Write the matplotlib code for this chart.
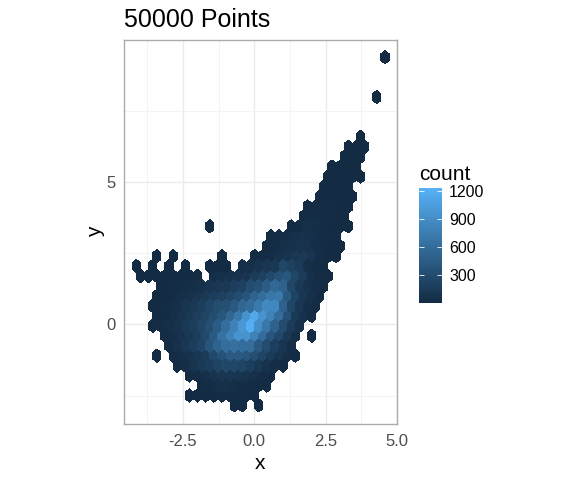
import numpy as np
import matplotlib
matplotlib.use("Agg")
import matplotlib.pyplot as plt
from matplotlib.colors import LinearSegmentedColormap

plt.rcParams['font.family'] = ['Liberation Sans', 'DejaVu Sans']

# Hex cells, one row per y value. Each row starts at row_x0 and steps by hex_step, 0 = empty cell
hex_step = 0.286
row_y = [9.37, 7.974, 6.578, 6.229, 5.88, 5.531, 5.182, 4.833, 4.484, 4.135, 3.786, 3.437,
         3.088, 2.739, 2.39, 2.041, 1.692, 1.343, 0.994, 0.645, 0.296, -0.053, -0.402,
         -0.751, -1.1, -1.449, -1.798, -2.147, -2.496, -2.845]
row_x0 = [4.586, 4.3, 3.728, 3.299, 3.156, 2.727, 2.584, 2.441, 2.298, 1.869, 1.726, -1.563,
          0.582, 0.439, -3.422, -4.137, -3.994, -3.279, -3.422, -3.565, -3.422, -3.565, -3.136,
          -2.993, -3.422, -2.707, -2.278, -1.849, -2.278, -0.705]
row_counts = [
    [1],
    [1],
    [2],
    [1, 3, 1],
    [1, 3, 2],
    [1, 3, 3, 2],
    [1, 4, 5, 4, 1],
    [4, 8, 6, 3],
    [4, 10, 10, 6, 1],
    [2, 10, 15, 12, 5, 1],
    [4, 15, 25, 15, 8, 2],
    [1, 0, 0, 0, 0, 0, 0, 0, 0, 0, 4, 25, 40, 35, 20, 10, 3, 1],
    [4, 20, 30, 50, 60, 45, 25, 12, 4],
    [8, 25, 40, 60, 80, 70, 40, 15, 5, 1],
    [1, 0, 1, 0, 0, 0, 0, 0, 2, 0, 0, 0, 12, 25, 30, 60, 80, 120, 130, 90, 30, 10, 2],
    [1, 0, 1, 0, 1, 0, 2, 0, 0, 3, 6, 8, 0, 35, 50, 80, 110, 120, 260, 200, 150, 40, 12, 3],
    [1, 2, 2, 3, 5, 8, 10, 15, 0, 30, 45, 60, 70, 90, 150, 200, 280, 350, 400, 260, 150, 50, 15, 6],
    [2, 6, 15, 30, 40, 60, 90, 110, 130, 180, 200, 300, 350, 450, 560, 500, 260, 130, 70, 30, 3],
    [2, 8, 20, 40, 60, 90, 130, 170, 200, 250, 300, 380, 520, 600, 700, 720, 420, 220, 100, 50, 5],
    [2, 10, 25, 50, 90, 120, 170, 240, 310, 340, 420, 550, 600, 720, 860, 850, 500, 250, 110, 40, 15],
    [1, 10, 40, 80, 120, 180, 230, 300, 400, 550, 700, 950, 1150, 950, 800, 600, 350, 130, 60, 20],
    [1, 12, 40, 70, 120, 170, 240, 320, 450, 620, 800, 1000, 1200, 900, 700, 500, 300, 150, 60],
    [15, 40, 80, 120, 170, 280, 430, 650, 800, 950, 950, 800, 600, 400, 280, 130, 50, 0, 1],
    [20, 60, 110, 170, 240, 380, 520, 620, 650, 620, 600, 430, 300, 190, 100, 40],
    [1, 0, 8, 35, 70, 110, 150, 280, 360, 430, 430, 400, 320, 230, 150, 90, 40, 8],
    [8, 30, 75, 120, 170, 220, 260, 260, 230, 190, 120, 70, 30, 10],
    [8, 25, 50, 80, 100, 110, 100, 80, 50, 25, 10],
    [10, 25, 40, 45, 40, 30, 20, 10, 3],
    [1, 3, 5, 8, 12, 15, 15, 10, 3],
    [2, 1, 0, 1],
]
legend_ticks = [300, 600, 900, 1200]
x_ticks = [-2.5, 0, 2.5, 5]
x_tick_labels = ['-2.5', '0.0', '2.5', '5.0']
y_ticks = [0, 5]

# Flatten the rows so hexbin can use them
hex_x, hex_y, hex_c = [], [], []
for y, x0, counts in zip(row_y, row_x0, row_counts):
    for i, c in enumerate(counts):
        if c > 0:
            hex_x.append(x0 + i * hex_step)
            hex_y.append(y)
            hex_c.append(c)

W, H = 576, 480
fig = plt.figure(figsize=(W / 100, H / 100), dpi=100)
ax = fig.add_axes([124 / W, 1 - 424 / H, 273 / W, 384 / H])

cmap = LinearSegmentedColormap.from_list('ggblue', ['#132B43', '#56B1F7'])
# gridsize matches the lattice of the cells
hb = ax.hexbin(hex_x, hex_y, C=hex_c, reduce_C_function=np.sum, gridsize=(31, 18),
               extent=(-4.28, 4.586, -3.194, 9.37), cmap=cmap, vmin=1, vmax=1232,
               edgecolors='none', linewidths=0, antialiaseds=False)

ax.set_xlim(-4.572, 5.007)
ax.set_ylim(-3.498, 9.975)

# Grid lines like theme_bw
ax.set_axisbelow(True)
ax.set_xticks(x_ticks)
ax.set_xticklabels(x_tick_labels)
ax.set_yticks(y_ticks)
ax.set_xticks([-3.75, -1.25, 1.25, 3.75], minor=True)
ax.set_yticks([-2.5, 2.5, 7.5], minor=True)
ax.grid(True, which='major', color='#EBEBEB', linewidth=1.0)
ax.grid(True, which='minor', color='#F2F2F2', linewidth=0.6)
ax.tick_params(which='both', length=0)
ax.tick_params(axis='both', which='major', labelsize=12, labelcolor='#4D4D4D')
ax.tick_params(axis='x', pad=7)
ax.tick_params(axis='y', pad=6)
for s in ax.spines.values():
    s.set_color('#ABABAB')
    s.set_linewidth(1.0)

ax.set_xlabel('x', fontsize=15, labelpad=4)
ax.set_ylabel('y', fontsize=15, labelpad=1)
ax.set_title('50000 Points', loc='left', fontsize=18, pad=9)

# Colour bar on the right
cax = fig.add_axes([419.3 / W, 1 - 303.3 / H, 23 / W, 115 / H])
cb = fig.colorbar(hb, cax=cax, ticks=legend_ticks)
cb.outline.set_visible(False)
cax.tick_params(which='both', direction='in', color='white', length=3.3, width=0.6,
                left=True, right=True, labelsize=11.5, pad=5)
fig.text(419 / W, 1 - 180 / H, 'count', fontsize=15, ha='left', va='baseline')

plt.savefig('out.png', dpi=100)
